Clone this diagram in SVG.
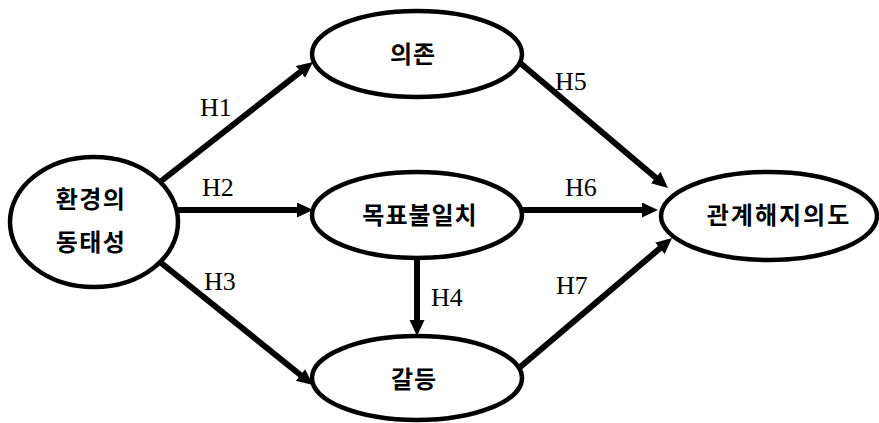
<svg xmlns="http://www.w3.org/2000/svg" width="879" height="423" viewBox="0 0 879 423">
  <style>
    .node ellipse { fill: #ffffff; stroke: #000000; stroke-width: 4.5; }
    .node text { font-family: "Noto Sans CJK KR", "Noto Sans", sans-serif; font-weight: bold; font-size: 24px; fill: #000000; text-anchor: middle; dominant-baseline: central; }
    .edge { stroke: #000000; stroke-width: 6; fill: none; marker-end: url(#head); }
    .lbl { font-family: "Liberation Serif", "DejaVu Serif", serif; font-size: 26px; fill: #000000; }
  </style>
  <defs>
    <marker id="head" markerUnits="userSpaceOnUse" markerWidth="17" markerHeight="16" refX="4" refY="7.5" orient="auto" viewBox="0 0 17 16">
      <path d="M0,0 L16,7.5 L0,15 Z" fill="#000000"/>
    </marker>
  </defs>

  <!-- nodes -->
  <g id="env" class="node">
    <ellipse cx="94" cy="222" rx="84" ry="65"/>
    <text x="91" y="197" font-size="25" letter-spacing="1.5">환경의</text>
    <text x="91" y="240" font-size="25" letter-spacing="1.5">동태성</text>
  </g>
  <g id="dependence" class="node">
    <ellipse cx="417" cy="54" rx="105" ry="43"/>
    <text x="413" y="52" letter-spacing="1">의존</text>
  </g>
  <g id="goal" class="node">
    <ellipse cx="417" cy="215" rx="105" ry="43"/>
    <text x="420" y="213" letter-spacing="1">목표불일치</text>
  </g>
  <g id="conflict" class="node">
    <ellipse cx="417" cy="378" rx="105" ry="42"/>
    <text x="414" y="377" letter-spacing="1">갈등</text>
  </g>
  <g id="exit" class="node">
    <ellipse cx="769" cy="216" rx="108" ry="44"/>
    <text x="779" y="213" letter-spacing="2">관계해지의도</text>
  </g>

  <!-- connectors -->
  <g id="connectors">
    <line class="edge" x1="160" y1="182" x2="303.6" y2="69.4"/>
    <line class="edge" x1="178" y1="210" x2="301" y2="210"/>
    <line class="edge" x1="160" y1="262" x2="303.6" y2="377.5"/>
    <line class="edge" x1="417" y1="258" x2="417" y2="324"/>
    <line class="edge" x1="519" y1="62" x2="658.8" y2="180.2"/>
    <line class="edge" x1="521" y1="210" x2="646" y2="210"/>
    <line class="edge" x1="519" y1="368" x2="662.9" y2="245.8"/>
  </g>

  <!-- path labels -->
  <g id="labels">
    <text class="lbl" x="200" y="116">H1</text>
    <text class="lbl" x="202" y="196">H2</text>
    <text class="lbl" x="204" y="290">H3</text>
    <text class="lbl" x="431" y="306">H4</text>
    <text class="lbl" x="555" y="90">H5</text>
    <text class="lbl" x="565" y="196">H6</text>
    <text class="lbl" x="556" y="294">H7</text>
  </g>
</svg>
